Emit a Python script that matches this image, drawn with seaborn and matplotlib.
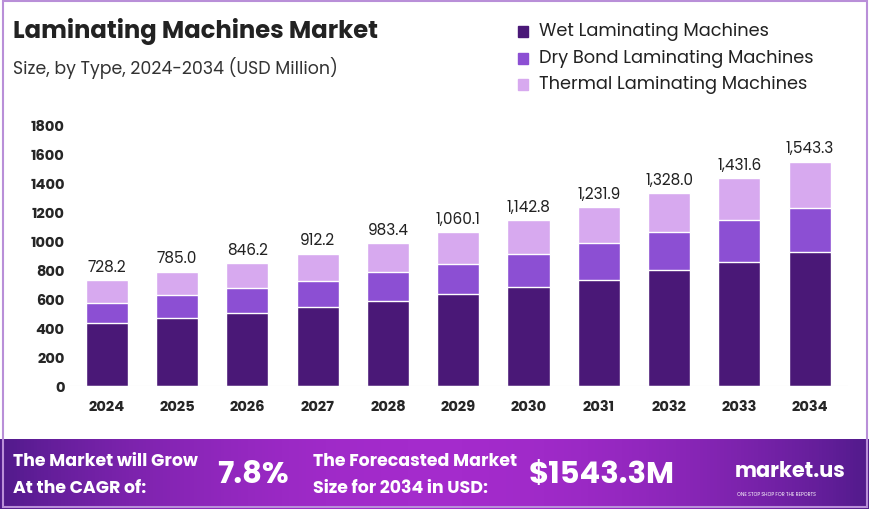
import numpy as np
import pandas as pd
import matplotlib
matplotlib.use("Agg")
import matplotlib.pyplot as plt
import seaborn as sns
from matplotlib.colors import LinearSegmentedColormap

years = [str(y) for y in range(2024, 2035)]
wet = [435, 469, 504, 545, 587, 635, 683, 731, 800, 856, 925]
dry = [138, 159, 172, 180, 200, 207, 228, 256, 263, 289, 303]
totals = [728.2, 785.0, 846.2, 912.2, 983.4, 1060.1, 1142.8, 1231.9, 1328.0, 1431.6, 1543.3]
series_names = ["Wet Laminating Machines", "Dry Bond Laminating Machines", "Thermal Laminating Machines"]
colors = ["#4a1877", "#8c4fd3", "#d7a9ef"]

sns.set_theme(style="white")
plt.rcParams['font.family'] = ['Poppins', 'Open Sans', 'DejaVu Sans']

df = pd.DataFrame({"year": years, "wet": wet, "dry": dry, "total": totals})
df["wet_dry"] = df["wet"] + df["dry"]

fig = plt.figure(figsize=(8.7, 5.1), dpi=100)
ax = fig.add_axes([0.08, 0.241, 0.895, 0.512])

# stacked look: draw cumulative totals back to front
for col, c in [("total", colors[2]), ("wet_dry", colors[1]), ("wet", colors[0])]:
    sns.barplot(data=df, x="year", y=col, color=c, width=0.6, ax=ax, saturation=1)

for i, t in enumerate(totals):
    ax.text(i, t + 40, f"{t:,.1f}", ha="center", va="bottom", fontsize=11, color="#222222", clip_on=False)

ax.set_ylim(0, 1800)
ax.set_xlim(-0.53, 10.55)
ax.set_yticks(range(0, 1801, 200))
ax.set_xlabel("")
ax.set_ylabel("")
ax.tick_params(axis="both", labelsize=10.5, length=0)
for lab in ax.get_xticklabels() + ax.get_yticklabels():
    lab.set_fontweight("bold")
ax.tick_params(axis="x", pad=10)
sns.despine(ax=ax, left=True, bottom=True)
ax.axhline(0, color="#dddddd", lw=0.8)

fig.text(0.015, 0.925, "Laminating Machines Market", fontsize=17.5, fontweight="bold", color="#222222")
fig.text(0.015, 0.855, "Size, by Type, 2024-2034 (USD Million)", fontsize=12.5, color="#333333")

# legend
for k, (name, c) in enumerate(zip(series_names, colors)):
    y = 0.937 - k * 0.052
    fig.patches.append(plt.Rectangle((0.595, y - 0.012), 0.012, 0.022, color=c, transform=fig.transFigure))
    fig.text(0.619, y, name, fontsize=12.8, va="center", color="#222222")

# border
fig.patches.append(plt.Rectangle((0.003, 0.003), 0.994, 0.994, fill=False, ec="#b98fd8", lw=1.5, transform=fig.transFigure))

# banner
bax = fig.add_axes([0.0, 0.0, 1.0, 0.137])
grad = np.linspace(0, 1, 256)
prof = np.sin(np.pi * grad) ** 0.8
cmap = LinearSegmentedColormap.from_list("b", ["#4f1a8a", "#a42bcc"])
bax.imshow(prof[None, :], aspect="auto", cmap=cmap, extent=[0, 1, 0, 1])
bax.set_axis_off()
bax.set_xlim(0, 1)
bax.set_ylim(0, 1)
bax.text(0.015, 0.68, "The Market will Grow", color="white", fontsize=12.5, fontweight="bold", va="center")
bax.text(0.015, 0.30, "At the CAGR of:", color="white", fontsize=12.5, fontweight="bold", va="center")
bax.text(0.25, 0.48, "7.8%", color="white", fontsize=22, fontweight="bold", va="center")
bax.text(0.36, 0.68, "The Forecasted Market", color="white", fontsize=12.5, fontweight="bold", va="center")
bax.text(0.36, 0.30, "Size for 2034 in USD:", color="white", fontsize=12.5, fontweight="bold", va="center")
bax.text(0.608, 0.48, "$1543.3M", color="white", fontsize=22, fontweight="bold", va="center")
bax.text(0.845, 0.55, "market.us", color="white", fontsize=15, fontweight="bold", va="center")
bax.text(0.847, 0.22, "ONE STOP SHOP FOR THE REPORTS", color="white", fontsize=3.5, va="center")

fig.savefig("out.png", dpi=100)
